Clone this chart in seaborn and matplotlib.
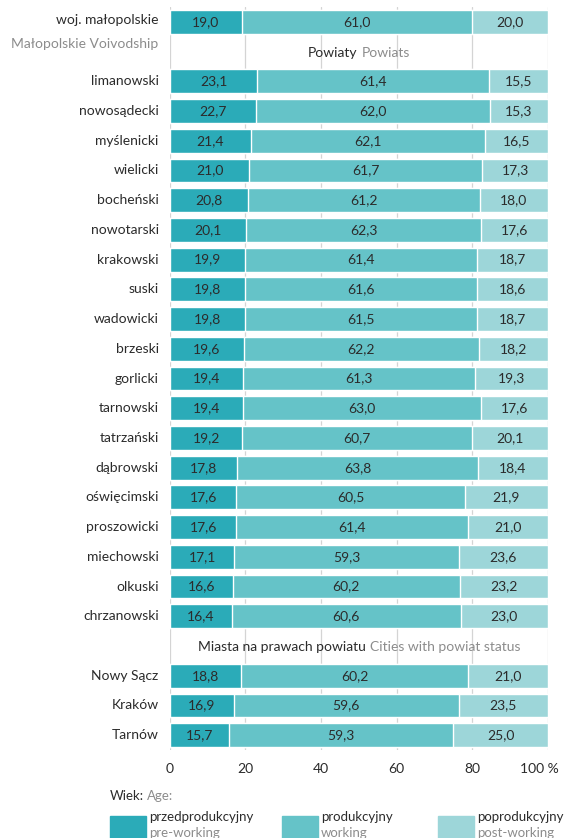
import pandas as pd
import numpy as np
import matplotlib
matplotlib.use('Agg')
import matplotlib.pyplot as plt
import seaborn as sns
from matplotlib.patches import Rectangle
from matplotlib.offsetbox import TextArea, HPacker, AnnotationBbox
from matplotlib.transforms import ScaledTranslation

# Data
voivodship = ['woj. małopolskie']
powiaty = ['limanowski', 'nowosądecki', 'myślenicki', 'wielicki', 'bocheński',
           'nowotarski', 'krakowski', 'suski', 'wadowicki', 'brzeski', 'gorlicki',
           'tarnowski', 'tatrzański', 'dąbrowski', 'oświęcimski', 'proszowicki',
           'miechowski', 'olkuski', 'chrzanowski']
cities = ['Nowy Sącz', 'Kraków', 'Tarnów']

pre_working = [19.0,
               23.1, 22.7, 21.4, 21.0, 20.8, 20.1, 19.9, 19.8, 19.8, 19.6, 19.4,
               19.4, 19.2, 17.8, 17.6, 17.6, 17.1, 16.6, 16.4,
               18.8, 16.9, 15.7]
working = [61.0,
           61.4, 62.0, 62.1, 61.7, 61.2, 62.3, 61.4, 61.6, 61.5, 62.2, 61.3,
           63.0, 60.7, 63.8, 60.5, 61.4, 59.3, 60.2, 60.6,
           60.2, 59.6, 59.3]
post_working = [20.0,
                15.5, 15.3, 16.5, 17.3, 18.0, 17.6, 18.7, 18.6, 18.7, 18.2, 19.3,
                17.6, 20.1, 18.4, 21.9, 21.0, 23.6, 23.2, 23.0,
                21.0, 23.5, 25.0]

x_ticks = [0, 20, 40, 60, 80, 100]
x_tick_labels = ['0', '20', '40', '60', '80', '100 %']

C_PRE = '#2babb8'
C_WORK = '#65c3c8'
C_POST = '#9dd6d9'
DARK = '#2b2b2b'
GRAY = '#8c8c8c'
FS = 10

sns.set_theme(style='white')
plt.rcParams['font.family'] = ['Lato', 'DejaVu Sans']

df = pd.DataFrame({
    'name': voivodship + powiaty + cities,
    'pre': pre_working,
    'work': working,
    'post': post_working,
})
df['s1'] = df['pre']
df['s2'] = df['pre'] + df['work']
df['s3'] = df['pre'] + df['work'] + df['post']

# row order with two header slots
order = voivodship + ['__h1'] + powiaty + ['__h2'] + cities

fig, ax = plt.subplots(figsize=(5.70, 8.38), dpi=100)
fig.subplots_adjust(left=0.298, right=0.961, top=1 - 7 / 838, bottom=1 - 750 / 838)

sns.barplot(data=df, y='name', x='s3', order=order, color=C_POST, orient='h',
            width=0.8, saturation=1, ax=ax)
sns.barplot(data=df, y='name', x='s2', order=order, color=C_WORK, orient='h',
            width=0.8, saturation=1, ax=ax)
sns.barplot(data=df, y='name', x='s1', order=order, color=C_PRE, orient='h',
            width=0.8, saturation=1, ax=ax)

fmt = lambda v: f'{v:.1f}'.replace('.', ',')
for _, r in df.iterrows():
    yi = order.index(r['name'])
    for left, w in [(0, r['pre']), (r['s1'], r['work']), (r['s2'], r['post'])]:
        ax.text(left + w / 2, yi, fmt(w), ha='center', va='center',
                fontsize=FS, color=DARK)
    if r['name'] == 'woj. małopolskie':
        ax.annotate('woj. małopolskie', xy=(0, yi), xycoords=('axes fraction', 'data'),
                    xytext=(-8, 1), textcoords='offset points', ha='right', va='center',
                    fontsize=FS, color=DARK)
        ax.annotate('Małopolskie Voivodship', xy=(0, yi), xycoords=('axes fraction', 'data'),
                    xytext=(-8, -16), textcoords='offset points', ha='right', va='center',
                    fontsize=FS, color=GRAY)
    else:
        ax.annotate(r['name'], xy=(0, yi), xycoords=('axes fraction', 'data'),
                    xytext=(-8, 0), textcoords='offset points', ha='right', va='center',
                    fontsize=FS, color=DARK)

# section headers
def header(key, t1, t2):
    box = HPacker(children=[TextArea(t1, textprops=dict(color=DARK, fontsize=FS)),
                            TextArea(t2, textprops=dict(color=GRAY, fontsize=FS))],
                  align='baseline', pad=0, sep=3)
    ab = AnnotationBbox(box, (50, order.index(key) + 0.05), frameon=False,
                        box_alignment=(0.5, 0.5))
    ax.add_artist(ab)

header('__h1', 'Powiaty', 'Powiats')
header('__h2', 'Miasta na prawach powiatu', 'Cities with powiat status')

ax.set_xlim(0, 100)
ax.set_ylim(len(order) - 0.5, -0.5)
ax.set_xticks(x_ticks)
ax.set_xticklabels(x_tick_labels)
ax.set_yticks([])
ax.set_xlabel('')
ax.set_ylabel('')
ax.tick_params(axis='x', length=0, pad=9, labelsize=FS, labelcolor=DARK)
last = ax.get_xticklabels()[-1]
last.set_transform(last.get_transform() + ScaledTranslation(-6 / 72, 0, fig.dpi_scale_trans))
for s in ax.spines.values():
    s.set_visible(False)
ax.set_axisbelow(True)
ax.grid(axis='x', color='#d4d4d4', linewidth=0.9)

# legend
W, H = 570, 838
def fx(px): return px / W
def fy(py): return 1 - py / H

LFS = 9.5
t = fig.text(fx(110), fy(796), 'Wiek:', ha='left', va='center', fontsize=LFS, color=DARK)
ax.annotate('Age:', xy=(1, 0.5), xycoords=t, xytext=(2, 0), textcoords='offset points',
            ha='left', va='center', fontsize=LFS, color=GRAY, annotation_clip=False)
legend_items = [(110, C_PRE, 'przedprodukcyjny', 'pre-working'),
                (282, C_WORK, 'produkcyjny', 'working'),
                (438, C_POST, 'poprodukcyjny', 'post-working')]
for x0, c, pl, en in legend_items:
    fig.patches.append(Rectangle((fx(x0), fy(842)), fx(36), 26 / H, color=c,
                                 transform=fig.transFigure, figure=fig))
    fig.text(fx(x0 + 39), fy(817), pl, ha='left', va='center', fontsize=LFS, color=DARK)
    fig.text(fx(x0 + 39), fy(833), en, ha='left', va='center', fontsize=LFS, color=GRAY)

fig.savefig('out.png', dpi=100)
